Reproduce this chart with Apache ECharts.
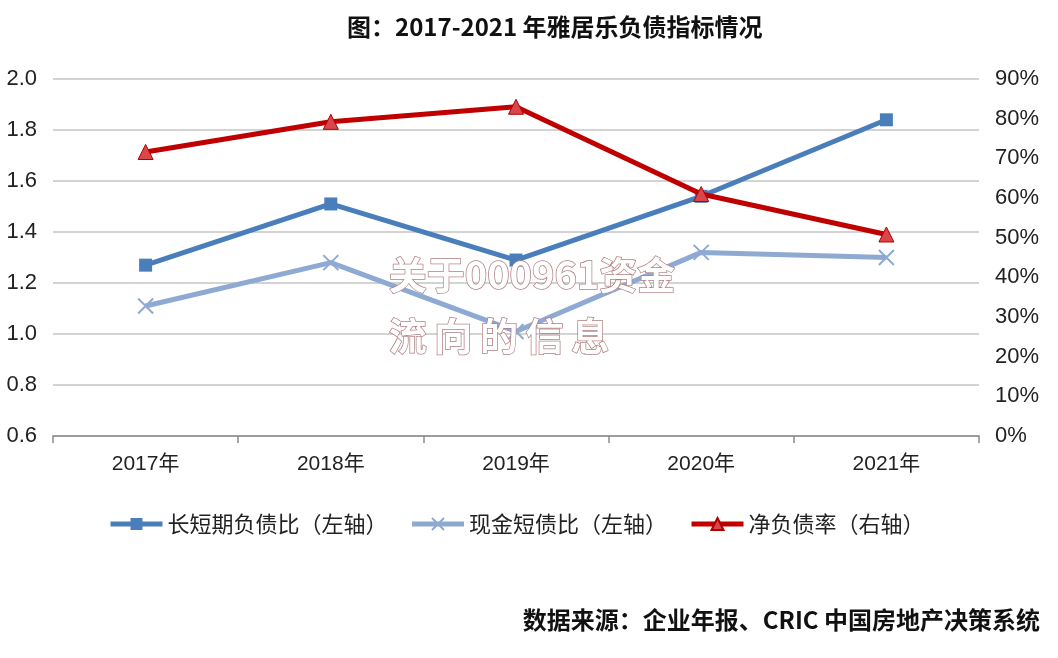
<!DOCTYPE html>
<html>
<head>
<meta charset="utf-8">
<script src="https://cdn.jsdelivr.net/npm/echarts@6/dist/echarts.min.js"></script>
<style>
  html, body { margin: 0; padding: 0; background: #fff; }
  #chart { width: 1058px; height: 658px; }
</style>
</head>
<body>
<div id="chart"></div>
<script>
// 数据
var years = ['2017年', '2018年', '2019年', '2020年', '2021年'];
var longShortRatio = [1.27, 1.51, 1.29, 1.54, 1.84];   // 长短期负债比（左轴）
var cashShortRatio = [1.11, 1.28, 1.01, 1.32, 1.30];   // 现金短债比（左轴）
var netDebtRatio = [71.6, 79.2, 83.0, 61.0, 50.8];     // 净负债率（右轴）, %

var sans = '"Liberation Sans", "Noto Sans CJK SC", sans-serif';
var cjk = '"Noto Sans CJK SC", sans-serif';

var myChart = echarts.init(document.getElementById('chart'));
myChart.setOption({
  animation: false,
  backgroundColor: '#fff',
  title: {
    text: '图：2017-2021 年雅居乐负债指标情况',
    left: 342,
    top: 10,
    textStyle: { fontFamily: cjk, fontSize: 24, fontWeight: 'bold', color: '#111' }
  },
  legend: {
    left: 103,
    top: 508,
    itemWidth: 52,
    itemHeight: 15,
    itemGap: 22,
    textStyle: { fontFamily: cjk, fontSize: 22, color: '#222' },
    lineStyle: { width: 5 },
    data: ['长短期负债比（左轴）', '现金短债比（左轴）', '净负债率（右轴）']
  },
  grid: { left: 53, right: 79, top: 79, bottom: 222 },
  xAxis: {
    type: 'category',
    data: years,
    boundaryGap: true,
    axisLine: { lineStyle: { color: '#8a8a8a', width: 1.5 } },
    axisTick: { show: true, length: 7, lineStyle: { color: '#8a8a8a', width: 1.5 } },
    axisLabel: { fontFamily: sans, fontSize: 21, color: '#222', margin: 18 }
  },
  yAxis: [
    {
      type: 'value',
      min: 0.6,
      max: 2.0,
      interval: 0.2,
      axisLine: { show: false },
      axisTick: { show: false },
      splitLine: { lineStyle: { color: '#c4c4c4', width: 1.5 } },
      axisLabel: {
        fontFamily: sans, fontSize: 22, color: '#222', margin: 16,
        formatter: function (v) { return v.toFixed(1); }
      }
    },
    {
      type: 'value',
      min: 0,
      max: 90,
      interval: 10,
      position: 'right',
      axisLine: { show: false },
      axisTick: { show: false },
      splitLine: { show: false },
      axisLabel: { fontFamily: sans, fontSize: 22, color: '#222', margin: 16, formatter: '{value}%' }
    }
  ],
  series: [
    {
      name: '长短期负债比（左轴）',
      type: 'line',
      yAxisIndex: 0,
      data: longShortRatio,
      symbol: 'rect',
      symbolSize: 13,
      lineStyle: { color: '#4a7ebb', width: 5 },
      itemStyle: { color: '#4a7ebb' },
      z: 3
    },
    {
      name: '现金短债比（左轴）',
      type: 'line',
      yAxisIndex: 0,
      data: cashShortRatio,
      symbol: 'path://M0,0L10,10M10,0L0,10',
      symbolSize: 15,
      lineStyle: { color: '#8eaad3', width: 5 },
      itemStyle: { color: '#8eaad3', borderColor: '#8eaad3', borderWidth: 2 },
      z: 2
    },
    {
      name: '净负债率（右轴）',
      type: 'line',
      yAxisIndex: 1,
      data: netDebtRatio,
      symbol: 'triangle',
      symbolSize: 15,
      lineStyle: { color: '#c00000', width: 5 },
      itemStyle: { color: '#d9474a', borderColor: '#b00000', borderWidth: 1 },
      z: 4
    }
  ],
  graphic: [
    {
      type: 'text',
      left: 388,
      top: 255,
      z: 100,
      style: {
        text: '关于000961资金',
        fontFamily: cjk,
        fontSize: 38,
        fontWeight: 'bold',
        fill: '#ffffff',
        stroke: '#b08084',
        lineWidth: 1.5,
        textShadowColor: 'rgba(150,90,95,0.7)',
        textShadowOffsetX: 2,
        textShadowOffsetY: 2
      }
    },
    {
      type: 'text',
      left: 388,
      top: 316,
      z: 100,
      style: {
        text: '流\u2009向\u2009的\u2009信\u2009息',
        fontFamily: cjk,
        fontSize: 38,
        fontWeight: 'bold',
        fill: '#ffffff',
        stroke: '#b08084',
        lineWidth: 1.5,
        textShadowColor: 'rgba(150,90,95,0.7)',
        textShadowOffsetX: 2,
        textShadowOffsetY: 2
      }
    },
    {
      type: 'text',
      right: 18,
      top: 608,
      style: {
        text: '数据来源：企业年报、CRIC 中国房地产决策系统',
        fontFamily: cjk,
        fontSize: 24,
        fontWeight: 'bold',
        fill: '#111'
      }
    }
  ]
});
</script>
</body>
</html>
